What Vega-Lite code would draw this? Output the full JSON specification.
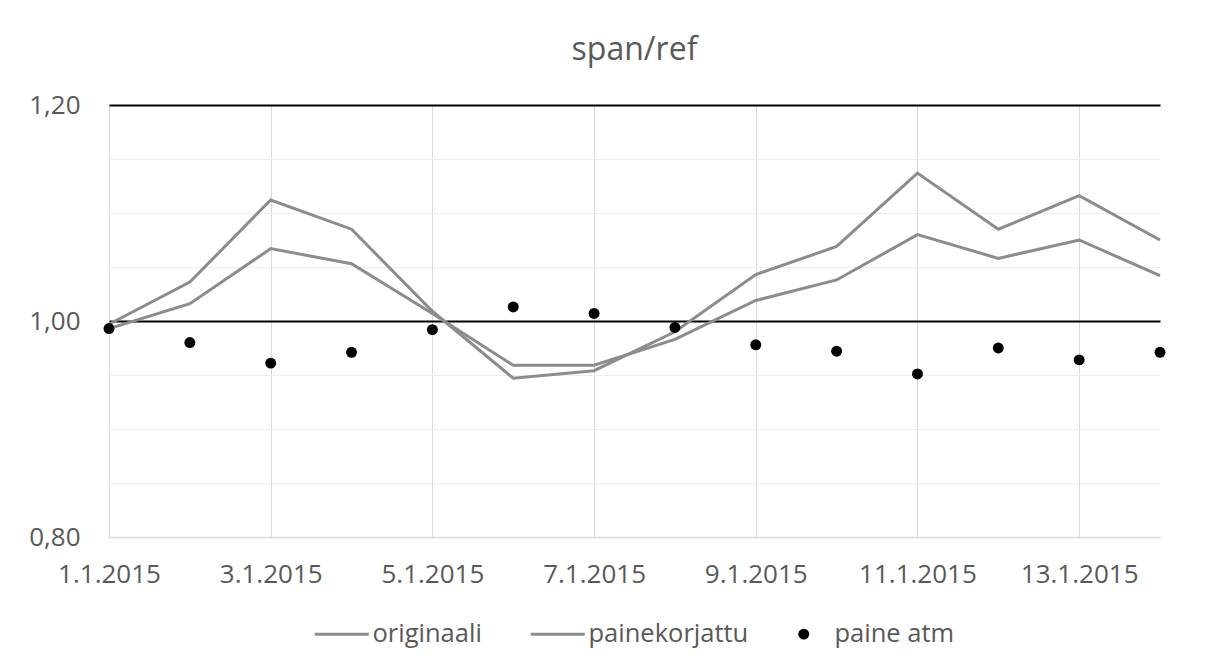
{
  "$schema": "https://vega.github.io/schema/vega-lite/v6.json",
  "width": 1051,
  "height": 432,
  "autosize": {"type": "none"},
  "padding": {"left": 109, "top": 105, "right": 69, "bottom": 133},
  "background": "white",
  "title": {
    "text": "span/ref",
    "anchor": "middle",
    "offset": 25,
    "font": "Open Sans",
    "fontSize": 32,
    "fontWeight": "normal",
    "color": "#595959"
  },
  "data": {
    "values": [
      {"date": "2015-01-01", "series": "originaali", "value": 0.997},
      {"date": "2015-01-02", "series": "originaali", "value": 1.036},
      {"date": "2015-01-03", "series": "originaali", "value": 1.112},
      {"date": "2015-01-04", "series": "originaali", "value": 1.085},
      {"date": "2015-01-05", "series": "originaali", "value": 1.009},
      {"date": "2015-01-06", "series": "originaali", "value": 0.947},
      {"date": "2015-01-07", "series": "originaali", "value": 0.954},
      {"date": "2015-01-08", "series": "originaali", "value": 0.990},
      {"date": "2015-01-09", "series": "originaali", "value": 1.043},
      {"date": "2015-01-10", "series": "originaali", "value": 1.069},
      {"date": "2015-01-11", "series": "originaali", "value": 1.137},
      {"date": "2015-01-12", "series": "originaali", "value": 1.085},
      {"date": "2015-01-13", "series": "originaali", "value": 1.116},
      {"date": "2015-01-14", "series": "originaali", "value": 1.075},
      {"date": "2015-01-01", "series": "painekorjattu", "value": 0.993},
      {"date": "2015-01-02", "series": "painekorjattu", "value": 1.016},
      {"date": "2015-01-03", "series": "painekorjattu", "value": 1.067},
      {"date": "2015-01-04", "series": "painekorjattu", "value": 1.053},
      {"date": "2015-01-05", "series": "painekorjattu", "value": 1.007},
      {"date": "2015-01-06", "series": "painekorjattu", "value": 0.959},
      {"date": "2015-01-07", "series": "painekorjattu", "value": 0.959},
      {"date": "2015-01-08", "series": "painekorjattu", "value": 0.983},
      {"date": "2015-01-09", "series": "painekorjattu", "value": 1.019},
      {"date": "2015-01-10", "series": "painekorjattu", "value": 1.038},
      {"date": "2015-01-11", "series": "painekorjattu", "value": 1.080},
      {"date": "2015-01-12", "series": "painekorjattu", "value": 1.058},
      {"date": "2015-01-13", "series": "painekorjattu", "value": 1.075},
      {"date": "2015-01-14", "series": "painekorjattu", "value": 1.042},
      {"date": "2015-01-01", "series": "paine atm", "value": 0.993},
      {"date": "2015-01-02", "series": "paine atm", "value": 0.980},
      {"date": "2015-01-03", "series": "paine atm", "value": 0.961},
      {"date": "2015-01-04", "series": "paine atm", "value": 0.971},
      {"date": "2015-01-05", "series": "paine atm", "value": 0.992},
      {"date": "2015-01-06", "series": "paine atm", "value": 1.013},
      {"date": "2015-01-07", "series": "paine atm", "value": 1.007},
      {"date": "2015-01-08", "series": "paine atm", "value": 0.994},
      {"date": "2015-01-09", "series": "paine atm", "value": 0.978},
      {"date": "2015-01-10", "series": "paine atm", "value": 0.972},
      {"date": "2015-01-11", "series": "paine atm", "value": 0.951},
      {"date": "2015-01-12", "series": "paine atm", "value": 0.975},
      {"date": "2015-01-13", "series": "paine atm", "value": 0.964},
      {"date": "2015-01-14", "series": "paine atm", "value": 0.971}
    ]
  },
  "encoding": {
    "x": {
      "field": "date",
      "type": "temporal",
      "title": null,
      "scale": {"type": "utc", "domain": ["2015-01-01", "2015-01-14"], "nice": false},
      "axis": {
        "tickCount": {"interval": "day", "step": 2},
        "labelExpr": "utcFormat(datum.value, '%-d.%-m.%Y')",
        "ticks": false,
        "labelPadding": 24,
        "labelFlush": false,
        "labelOverlap": false,
        "grid": true,
        "gridColor": "#d9d9d9",
        "gridWidth": 1,
        "domainColor": "#d9d9d9",
        "domainWidth": 1.5,
        "labelFont": "Open Sans",
        "labelFontSize": 26,
        "labelColor": "#595959"
      }
    },
    "y": {
      "field": "value",
      "type": "quantitative",
      "title": null,
      "scale": {"domain": [0.8, 1.2], "nice": false, "zero": false},
      "axis": {
        "values": [0.8, 0.85, 0.9, 0.95, 1.0, 1.05, 1.1, 1.15, 1.2],
        "labelExpr": "abs(datum.value * 5 - round(datum.value * 5)) < 0.001 ? replace(format(datum.value, '.2f'), '.', ',') : ''",
        "ticks": false,
        "domain": false,
        "labelPadding": 29,
        "grid": true,
        "gridColor": {"condition": {"test": "abs(datum.value - 1) < 0.001 || abs(datum.value - 1.2) < 0.001", "value": "#000000"}, "value": "#eeeeee"},
        "gridWidth": {"condition": {"test": "abs(datum.value - 1) < 0.001 || abs(datum.value - 1.2) < 0.001", "value": 2}, "value": 1},
        "labelFont": "Open Sans",
        "labelFontSize": 26,
        "labelColor": "#595959"
      }
    },
    "color": {
      "field": "series",
      "type": "nominal",
      "scale": {"domain": ["originaali", "painekorjattu", "paine atm"], "range": ["#8c8c8c", "#8c8c8c", "#000000"]},
      "legend": {
        "title": null,
        "orient": "none",
        "legendX": 220,
        "legendY": 516,
        "direction": "horizontal",
        "columnPadding": 42,
        "symbolSize": 729,
        "symbolType": "stroke",
        "symbolStrokeWidth": 3,
        "labelOffset": 18,
        "labelFont": "Open Sans",
        "labelFontSize": 25.5,
        "labelColor": "#595959",
        "encode": {
          "symbols": {
            "update": {
              "shape": {"signal": "datum.value === 'paine atm' ? 'circle' : 'stroke'"},
              "size": {"signal": "datum.value === 'paine atm' ? 120 : 2916"},
              "fill": {"signal": "datum.value === 'paine atm' ? '#000000' : 'transparent'"},
              "stroke": {"signal": "datum.value === 'paine atm' ? '#000000' : '#8c8c8c'"},
              "strokeWidth": {"signal": "datum.value === 'paine atm' ? 0 : 3"}
            }
          }
        }
      }
    }
  },
  "layer": [
    {
      "transform": [{"filter": "datum.series !== 'paine atm'"}],
      "mark": {"type": "line", "strokeWidth": 3}
    },
    {
      "transform": [{"filter": "datum.series === 'paine atm'"}],
      "mark": {"type": "point", "filled": true, "size": 120, "opacity": 1}
    }
  ],
  "config": {
    "view": {"stroke": null}
  }
}
